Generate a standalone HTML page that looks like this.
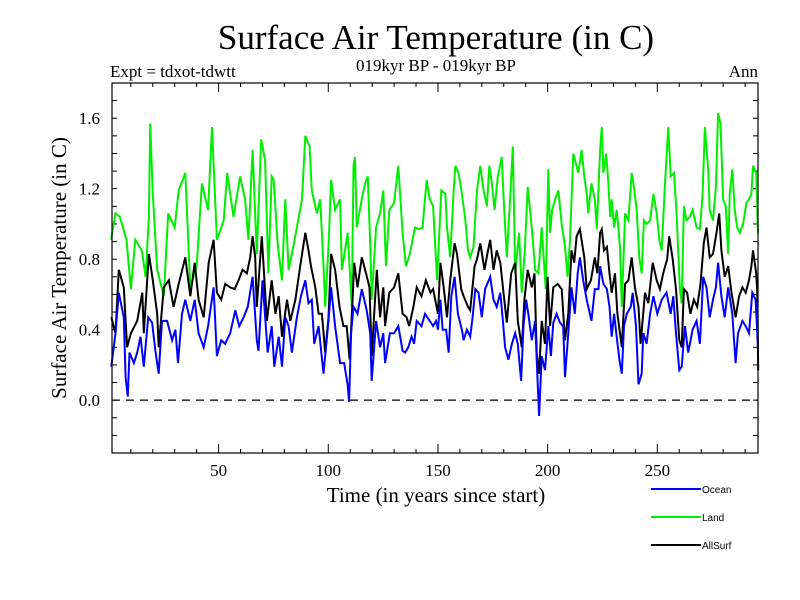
<!DOCTYPE html>
<html><head><meta charset="utf-8"><style>
body{margin:0;background:#fff}
svg{display:block}
text{font-family:"Liberation Serif",serif;fill:#000}
</style></head><body>
<svg id="chart" width="800" height="600">
<text x="436" y="49" font-size="35" text-anchor="middle">Surface Air Temperature (in C)</text>
<text x="436" y="71" font-size="17" text-anchor="middle">019kyr BP - 019kyr BP</text>
<text x="110" y="77" font-size="17">Expt = tdxot-tdwtt</text>
<text x="758" y="77" font-size="17" text-anchor="end">Ann</text>
<text transform="translate(66,268) rotate(-90)" font-size="21" text-anchor="middle">Surface Air Temperature (in C)</text>
<text x="436" y="502" font-size="21" text-anchor="middle">Time (in years since start)</text>
<g id="axes"></g>
<g id="series"></g>
<g id="legend"></g>
<rect x="112" y="83" width="646" height="370" fill="none" stroke="#000" stroke-width="1.2"/>
</svg>
<script>
const xTicks=[50,100,150,200,250];
const yTicks=[0.0,0.4,0.8,1.2,1.6];
const seriesNames=["Ocean","Land","AllSurf"];
const landYears=[1,3,5,8,10,12,15,16.7,18.2,18.8,20,22,25,27,30,31.8,34.8,37.1,40,42.4,45.2,47,49.2,52.3,53.9,56.8,59.8,62.1,63.6,65.5,67.4,69.4,71.2,72.7,74.2,75.1,76.9,78.9,80.4,81.9,83.4,85.7,88.0,89.5,91.5,92.5,94.8,96.3,97.8,98.6,100.1,101.3,103.1,105.4,106.2,108.1,108.8,110.7,111.5,112.2,113.0,115.3,116.8,118.0,119.1,119.8,121.8,123.6,125.1,126.3,127.8,130.0,131.9,133.9,135.4,137.2,139.5,141.5,143.0,144.8,146.3,147.8,149.6,151.5,153.4,154.1,155.6,157.1,157.9,159.4,160.9,162.5,163.7,164.7,166.2,167.8,169.3,170.8,172.3,173.4,174.6,175.8,177.3,179.1,179.9,181.4,182.9,184.1,185.2,187.0,188.2,189.7,190.9,192.8,194.3,195.8,197.3,199.1,200.3,201.1,202.1,203.4,204.9,206.4,207.9,209.1,210.2,211.7,214.0,215.5,216.7,217.8,218.5,220.0,221.5,222.4,223.9,224.7,225.4,226.7,227.7,228.5,229.2,230.3,231.5,233.0,233.8,235.3,236.8,238.3,239.1,240.6,241.8,242.9,243.9,245.1,246.7,248.2,249.7,250.9,252.0,253.5,255.0,256.1,257.6,258.8,260.3,261.1,262.1,263.3,264.8,266.1,267.9,269.4,270.6,271.7,273.2,273.9,275.4,276.7,277.7,278.8,280.0,281.2,282.3,283.0,284.2,285.3,286.4,287.6,289.1,290.6,291.8,292.9,293.6,295.1,295.9];
const landValues=[0.91,1.06,1.04,0.91,0.63,0.91,0.85,0.70,1.04,1.57,1.17,0.74,0.59,1.06,0.98,1.19,1.29,0.64,0.76,1.23,1.08,1.55,0.91,1.02,1.29,1.04,1.27,1.14,0.91,1.42,0.83,1.48,1.36,0.72,1.27,1.25,0.89,0.68,1.14,0.74,0.83,0.98,1.14,1.50,1.44,1.19,1.06,1.14,0.76,0.53,0.87,1.25,1.08,1.14,0.74,0.89,0.95,0.53,1.33,1.38,0.98,1.14,1.23,1.27,0.89,0.57,0.98,1.06,1.19,0.76,1.08,1.12,1.33,0.95,0.76,0.83,0.98,0.97,0.98,1.25,1.14,1.10,0.68,1.19,1.17,0.98,0.81,1.17,1.33,1.29,1.17,1.02,0.85,0.81,0.87,1.19,1.33,1.19,1.10,1.33,1.23,1.08,1.27,1.38,1.16,0.81,1.14,1.44,0.72,0.95,0.61,0.87,1.21,0.98,0.74,0.72,0.98,0.63,1.31,0.95,1.08,1.14,1.19,1.00,0.87,0.70,0.91,1.40,1.29,1.42,1.27,1.17,1.06,1.23,1.14,0.97,1.42,1.55,1.29,1.40,1.23,1.04,1.14,0.98,1.08,0.87,0.53,1.06,1.02,1.29,1.23,1.08,0.81,0.72,1.02,1.00,1.02,1.17,1.06,0.91,0.85,1.23,1.55,1.27,1.29,1.06,0.63,0.55,1.10,1.02,1.04,1.08,0.98,0.97,1.16,1.55,1.31,1.08,1.02,1.21,1.63,1.57,1.14,1.10,0.83,1.17,1.31,1.08,0.98,0.95,1.00,1.12,1.14,1.17,1.33,1.29,0.95];
const allYears=[1.1,3.0,4.5,6.8,8.3,10,12.9,15.2,15.9,18.2,20,22,22.7,25,27.3,29.5,31.8,34.8,37.1,39.1,40.9,43.2,45.5,47.7,49.2,51.2,53,55.3,57.3,59.1,60.9,62.9,64.4,65.5,66.7,67.4,69.7,72,74.2,75.9,77.4,78.9,81.2,82.7,85,87.2,89.5,91,92.1,94.1,95.6,97.1,98.6,100.1,101.3,103.1,105.1,106.9,108.4,109.7,111.2,111.8,113.3,115.3,117.2,118.8,119.8,122.1,123.6,125.1,125.9,127.8,130,131.9,133.9,135.7,136.9,138.8,140.3,142.5,144.5,146.6,147.8,150,151.1,152.6,154.1,155.6,157.6,158.7,160.6,161.7,163.7,164.7,166.7,167.8,169.3,171.2,172.8,173.8,175.3,176.8,178.4,179.9,181.4,183.4,185.2,186.4,188.2,189.4,190.9,192.8,194,195,196.1,197.3,198.8,200,201.1,202.6,204.6,206.4,207.9,209.4,210.9,212.1,213.2,214.7,216.7,217.8,219.7,221.5,222.7,223.9,224.7,225.7,227,228.2,229.2,230.7,231.8,233,233.8,235.3,236.8,238.3,239.8,241.4,242.4,244.4,245.9,247.9,249.7,251.2,252.7,254.5,255.4,257,258.5,260,261.1,262.1,263.6,265.1,266.7,268.2,269.7,271.2,272.4,273.9,275.4,277,278.2,279.2,280.7,282.3,283.8,285.7,287.3,288.8,290.3,291.8,292.9,293.6,295.1,295.6,296];
const allValues=[0.47,0.38,0.74,0.64,0.30,0.38,0.45,0.61,0.38,0.83,0.68,0.49,0.30,0.64,0.68,0.53,0.66,0.81,0.59,0.78,0.57,0.47,0.78,0.91,0.61,0.57,0.66,0.64,0.63,0.68,0.74,0.72,0.81,0.93,0.81,0.53,0.93,0.45,0.68,0.49,0.59,0.36,0.57,0.45,0.57,0.76,0.95,0.85,0.76,0.64,0.49,0.49,0.27,0.47,0.83,0.74,0.53,0.42,0.42,0.23,0.61,0.78,0.64,0.81,0.72,0.64,0.25,0.74,0.47,0.64,0.42,0.61,0.64,0.72,0.49,0.47,0.42,0.53,0.64,0.59,0.68,0.61,0.63,0.49,0.78,0.64,0.47,0.68,0.89,0.83,0.63,0.59,0.53,0.51,0.76,0.80,0.89,0.74,0.85,0.91,0.74,0.85,0.78,0.61,0.44,0.72,0.78,0.45,0.30,0.57,0.74,0.64,0.72,0.27,0.15,0.45,0.32,0.70,0.42,0.64,0.66,0.63,0.34,0.49,0.85,0.78,0.93,0.97,0.81,0.63,0.68,0.81,0.72,0.95,0.97,0.85,0.87,0.72,0.61,0.72,0.49,0.38,0.30,0.66,0.68,0.81,0.64,0.53,0.32,0.61,0.55,0.78,0.68,0.63,0.72,0.80,0.93,0.80,0.63,0.34,0.30,0.63,0.61,0.49,0.57,0.53,0.66,0.89,0.98,0.81,0.83,0.95,1.06,0.85,0.70,0.76,0.61,0.47,0.59,0.64,0.61,0.68,0.76,0.85,0.72,0.61,0.17];
const oceanYears=[1.1,3,4.5,6.8,7.6,8.6,9.4,11.4,12.9,14.4,15.9,17.9,19.7,21.2,22.7,24.2,26.5,28.8,30.3,31.5,33.3,34.8,37.1,39.1,40.9,43.2,45.2,47.7,49.2,51.2,53,55.3,57.6,59.4,61.4,63.3,65.5,67.4,68.2,70,72.4,74.2,75.4,77.4,78.9,80.4,81.9,83.4,85.7,87.5,89.5,91,92.5,93.6,95.6,97.8,100.1,101.3,103.1,105.4,107.2,108.8,109.5,110.4,111.5,113.3,115.3,117.5,119.1,119.8,121.8,123.6,125.1,125.9,128.1,130,131.9,133.9,135,136.5,138,139.1,140.3,142.5,144.1,146.3,147.8,149.1,150,151.1,152.1,153.7,154.9,156.1,157.6,159.1,160.9,161.7,163.2,164.7,165.8,167,168.5,170,171.5,173.8,175.3,176.8,178.4,179.6,180.6,182.1,183.7,185.2,186.4,187.9,189,190.2,191.2,192.8,194.3,195.5,196.1,197.3,198.8,200.3,201.5,202.6,204.1,205.6,207.1,207.9,209.4,210.9,212.4,213.7,214.7,216.2,217.8,220,221.5,223.2,223.9,225.4,227,228.2,229.2,230.3,231.5,232.7,233.8,234.8,236.1,237.9,238.8,240.3,241.4,242.9,243.6,245.1,246.7,248.2,250,252,254.2,256.1,257.3,258.5,260,261.1,262.6,264.1,266.1,267.9,269.4,270.9,272.4,273.9,275.4,276.7,277.7,279.2,280.7,282.3,284.2,285.7,286.8,288.8,290.3,291.8,293.3,294.8,295.9];
const oceanValues=[0.19,0.38,0.61,0.47,0.13,0.02,0.27,0.21,0.27,0.36,0.19,0.47,0.44,0.28,0.15,0.45,0.45,0.34,0.40,0.21,0.49,0.57,0.45,0.57,0.38,0.30,0.42,0.64,0.25,0.34,0.32,0.38,0.51,0.42,0.47,0.53,0.70,0.34,0.28,0.68,0.27,0.42,0.19,0.36,0.19,0.47,0.42,0.27,0.47,0.59,0.68,0.55,0.57,0.32,0.42,0.15,0.45,0.64,0.42,0.21,0.21,0.09,-0.01,0.38,0.53,0.49,0.63,0.51,0.38,0.11,0.45,0.30,0.38,0.21,0.38,0.38,0.42,0.28,0.27,0.30,0.36,0.32,0.45,0.42,0.49,0.45,0.42,0.45,0.40,0.57,0.40,0.40,0.27,0.59,0.70,0.49,0.40,0.34,0.40,0.36,0.47,0.63,0.61,0.47,0.63,0.70,0.57,0.53,0.61,0.45,0.30,0.23,0.32,0.38,0.32,0.11,0.42,0.57,0.49,0.34,0.45,0.08,-0.09,0.25,0.17,0.42,0.25,0.44,0.49,0.44,0.42,0.13,0.38,0.64,0.49,0.72,0.81,0.68,0.57,0.45,0.63,0.63,0.76,0.66,0.63,0.53,0.36,0.49,0.36,0.23,0.15,0.42,0.49,0.53,0.61,0.42,0.09,0.15,0.38,0.32,0.49,0.59,0.49,0.57,0.61,0.49,0.59,0.38,0.17,0.19,0.42,0.27,0.40,0.45,0.32,0.70,0.64,0.47,0.57,0.64,0.78,0.59,0.47,0.64,0.49,0.21,0.38,0.45,0.42,0.38,0.61,0.57,0.30];

const X0=112,X1=758,Y0=453,Y1=83;
const xMin=1.4,xMax=295.9,yMin=-0.3,yMax=1.8;
const xs=v=>X0+(v-xMin)/(xMax-xMin)*(X1-X0);
const ys=v=>Y0-(v-yMin)/(yMax-yMin)*(Y0-Y1);
const NS='http://www.w3.org/2000/svg';
function mk(tag,attrs,parent){const e=document.createElementNS(NS,tag);for(const k in attrs)e.setAttribute(k,attrs[k]);parent.appendChild(e);return e;}
const axes=document.getElementById('axes');
for(let t=10;t<=290;t+=10){
  const x=xs(t);const len=(t%50===0)?9:4;
  let e=mk('line',{x1:x,x2:x,y1:Y0,y2:Y0-len,stroke:'#000','stroke-width':1},axes);
  
  
  e=mk('line',{x1:x,x2:x,y1:Y1,y2:Y1+len,stroke:'#000','stroke-width':1},axes);
  
  
}
xTicks.forEach(t=>{
  const e=mk('text',{x:xs(t),y:476,'font-size':17,'text-anchor':'middle'},axes);
  e.textContent=String(t);
  
  
});
for(let k=-2;k<=17;k++){
  const v=k/10;const y=ys(v);
  let e=mk('line',{x1:X0,x2:X0+5,y1:y,y2:y,stroke:'#000','stroke-width':1},axes);
  
  
  e=mk('line',{x1:X1,x2:X1-5,y1:y,y2:y,stroke:'#000','stroke-width':1},axes);
  
  
}
yTicks.forEach(v=>{
  const e=mk('text',{x:100,y:ys(v)+6,'font-size':17,'text-anchor':'end'},axes);
  e.textContent=v.toFixed(1);
  
  
});
const zl=mk('line',{x1:X0,x2:X1,y1:ys(0),y2:ys(0),stroke:'#000','stroke-width':1.2,'stroke-dasharray':'8,6'},axes);



const sg=document.getElementById('series');
function draw(years,vals,color,name){
  const pts=years.map((t,i)=>xs(t).toFixed(1)+','+ys(vals[i]).toFixed(1)).join(' ');
  const p=mk('polyline',{points:pts,fill:'none',stroke:color,'stroke-width':2,'stroke-linejoin':'miter'},sg);
  
  
}
draw(landYears,landValues,'#00ee00','land-line');
draw(allYears,allValues,'#000000','allsurf-line');
draw(oceanYears,oceanValues,'#0000ff','ocean-line');

const lg=document.getElementById('legend');
const lcolors=['#0000ff','#00ee00','#000000'];
seriesNames.forEach((n,i)=>{
  const y=489+i*28;
  const l=mk('line',{x1:651,x2:701,y1:y,y2:y,stroke:lcolors[i],'stroke-width':2},lg);
  
  
  const t=mk('text',{x:702,y:y+4,'font-size':10,style:'font-family:"Liberation Sans",sans-serif'},lg);
  t.textContent=n;
  
  
});
</script>
</body></html>
